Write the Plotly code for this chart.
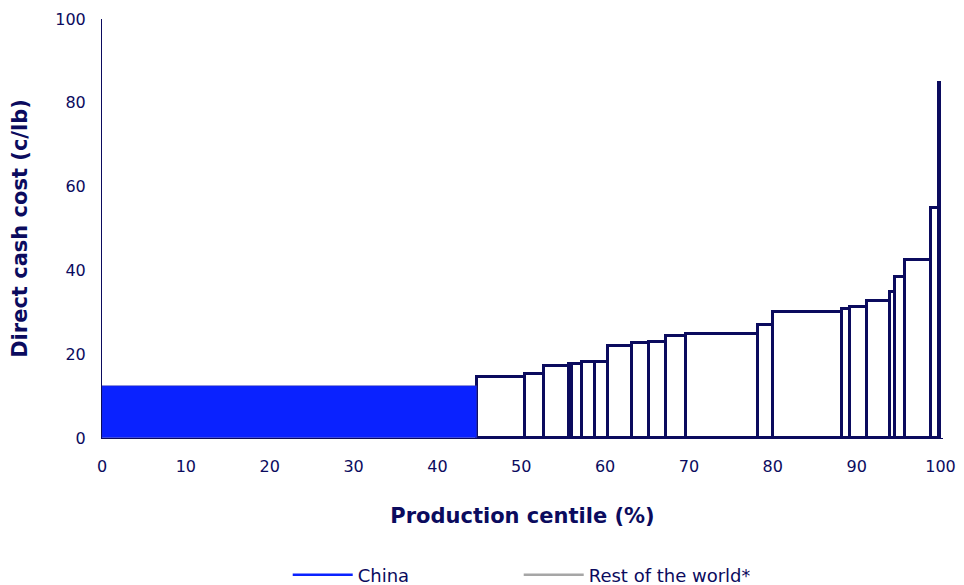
import numpy as np
import plotly.graph_objects as go

# Production share (% of centile) and direct cash cost (c/lb), sorted by cost
regions = ["China"] + ["Rest of the world*"] * 22
shares = [44.7, 5.8, 2.2, 3.0, 0.4, 1.2, 1.5, 1.5, 2.9, 2.0, 2.1, 2.4,
          8.5, 1.8, 8.3, 0.9, 2.0, 2.8, 0.6, 1.2, 3.1, 0.9, 0.2]
costs = [12.4, 14.5, 15.3, 17.2, 17.6, 17.6, 18.2, 18.2, 22.0, 22.7, 23.0, 24.4,
         24.8, 26.9, 30.1, 30.7, 31.2, 32.6, 34.8, 38.5, 42.5, 55.0, 84.7]
x_ticks = [0, 10, 20, 30, 40, 50, 60, 70, 80, 90, 100]
y_ticks = [0, 20, 40, 60, 80, 100]

NAVY = "#0b0b5e"
BLUE = "#0a22ff"
GRAY = "#a6a6a6"
FONT = "DejaVu Sans, sans-serif"

shares_a = np.array(shares)
left = np.concatenate([[0], np.cumsum(shares_a)[:-1]])
centers = left + shares_a / 2

is_china = np.array([r == "China" for r in regions])

fig = go.Figure()
# Rest of world bars (white with navy outline)
fig.add_trace(go.Bar(
    x=centers[~is_china], y=np.array(costs)[~is_china], width=shares_a[~is_china],
    marker=dict(color="white", line=dict(color=NAVY, width=3)),
    showlegend=False, hoverinfo="skip"))
# China bar
fig.add_trace(go.Bar(
    x=centers[is_china], y=np.array(costs)[is_china], width=shares_a[is_china],
    marker=dict(color=BLUE, line=dict(color="#3a3aa0", width=0.5)),
    showlegend=False, hoverinfo="skip"))

# Legend entries as lines
fig.add_trace(go.Scatter(x=[None], y=[None], mode="lines", name="China",
                         line=dict(color=BLUE, width=2.5)))
fig.add_trace(go.Scatter(x=[None], y=[None], mode="lines", name="Rest of the world*",
                         line=dict(color=GRAY, width=2.5)))

# page body has an 8px margin, so the figure is sized to fit the window
fig.update_layout(
    width=956, height=577,
    margin=dict(l=94, r=20.5, t=11, b=147, autoexpand=False),
    plot_bgcolor="white", paper_bgcolor="white",
    barmode="overlay", bargap=0,
    font=dict(family=FONT, color=NAVY, size=16),
    showlegend=True,
    legend=dict(orientation="h", x=0.4955, xanchor="center", y=-0.327, yanchor="middle",
                font=dict(size=18, color=NAVY, family=FONT),
                itemwidth=60, entrywidth=156, entrywidthmode="pixels"),
)
fig.update_xaxes(
    range=[0, 100.3], tickvals=x_ticks, ticktext=[str(t) for t in x_ticks],
    showgrid=False, zeroline=False, showline=True, linecolor=NAVY, linewidth=1,
    ticks="", tickfont=dict(size=16, color=NAVY, family=FONT), ticklabelstandoff=14,
    automargin=False,
    title=dict(text="<b>Production centile (%)</b>", font=dict(size=21, color=NAVY, family=FONT),
               standoff=33),
)
fig.update_yaxes(
    range=[0, 100], tickvals=y_ticks, ticktext=[str(t) for t in y_ticks],
    showgrid=False, zeroline=False, showline=True, linecolor=NAVY, linewidth=1,
    ticks="", tickfont=dict(size=16, color=NAVY, family=FONT), ticklabelstandoff=12,
    automargin=False,
    title=dict(text="<b>Direct cash cost (c/lb)</b>", font=dict(size=21, color=NAVY, family=FONT),
               standoff=25),
)

fig.write_html("out.html")
